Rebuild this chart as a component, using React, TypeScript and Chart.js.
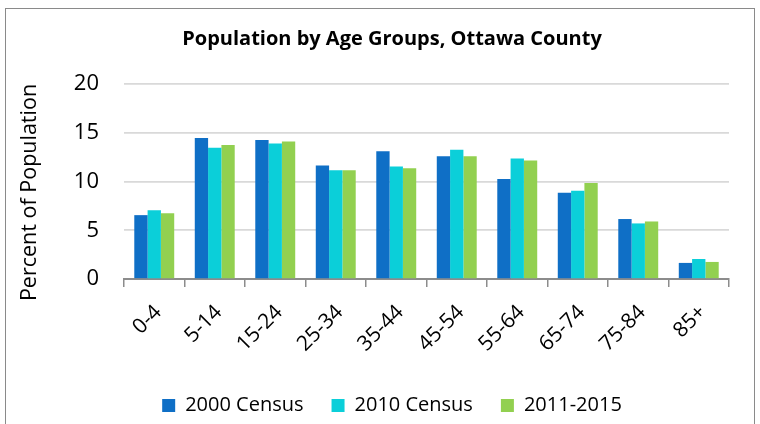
import React, { useEffect, useRef } from "react";
import { Chart, registerables } from "chart.js";

Chart.register(...registerables);

const categories = ["0-4", "5-14", "15-24", "25-34", "35-44", "45-54", "55-64", "65-74", "75-84", "85+"];
const census2000 = [6.55, 14.45, 14.25, 11.65, 13.1, 12.6, 10.25, 8.85, 6.15, 1.65];
const census2010 = [7.05, 13.45, 13.9, 11.15, 11.55, 13.25, 12.35, 9.05, 5.7, 2.05];
const acs20112015 = [6.75, 13.75, 14.1, 11.15, 11.35, 12.6, 12.15, 9.85, 5.9, 1.75];
const yTicks = [0, 5, 10, 15, 20];

const titleText = "Population by Age Groups, Ottawa County";
const yTitle = "Percent of Population";
const FONT = "'Open Sans', sans-serif";

const yTitlePlugin = {
  id: "yTitlePlugin",
  afterDraw(chart: any) {
    const ctx = chart.ctx;
    ctx.save();
    ctx.translate(30, 192.5);
    ctx.rotate(-Math.PI / 2);
    ctx.font = `21.5px ${FONT}`;
    ctx.fillStyle = "#000";
    ctx.textAlign = "center";
    ctx.textBaseline = "middle";
    ctx.fillText(yTitle, 0, 0);
    ctx.restore();
  },
};

export default function App() {
  const ref = useRef<HTMLCanvasElement>(null);
  useEffect(() => {
    if (!ref.current) return;
    const chart = new Chart(ref.current, {
      type: "bar",
      data: {
        labels: categories,
        datasets: [
          { label: "2000 Census", data: census2000, backgroundColor: "#0F6FC6" },
          { label: "2010 Census", data: census2010, backgroundColor: "#0BCFD9" },
          { label: "2011-2015", data: acs20112015, backgroundColor: "#92D050" },
        ],
      },
      options: {
        animation: false,
        responsive: false,
        maintainAspectRatio: false,
        datasets: { bar: { categoryPercentage: 0.66, barPercentage: 1, borderWidth: 0 } },
        layout: { padding: { left: 55, right: 31, top: 0, bottom: -1.5 } },
        plugins: {
          tooltip: { enabled: false },
          title: {
            display: true,
            text: titleText,
            color: "#000",
            font: { family: FONT, size: 20, weight: "bold", lineHeight: 1.2 },
            padding: { top: 27.5, bottom: 32.5 },
          },
          legend: {
            position: "bottom",
            labels: {
              boxWidth: 13,
              boxHeight: 13,
              padding: 28,
              color: "#000",
              font: { family: FONT, size: 20 },
            },
          },
        },
        scales: {
          x: {
            grid: {
              display: true,
              drawOnChartArea: false,
              drawTicks: true,
              tickLength: 8,
              color: "#8c8c8c",
              lineWidth: 1.5,
              offset: true,
            },
            border: { display: true, color: "#8c8c8c", width: 2 },
            ticks: {
              color: "#000",
              font: { family: FONT, size: 21 },
              minRotation: 45,
              maxRotation: 45,
              padding: 13,
              labelOffset: 4,
              autoSkip: false,
            },
            afterFit(scale: any) {
              scale.height = 88.5;
            },
          },
          y: {
            min: 0,
            max: 20,
            afterBuildTicks(scale: any) {
              scale.ticks = yTicks.map((v) => ({ value: v }));
            },
            grid: { color: "#d9d9d9", lineWidth: 1.7, drawTicks: false },
            border: { display: false },
            ticks: {
              color: "#000",
              font: { family: FONT, size: 22 },
              padding: 25,
            },
            afterFit(scale: any) {
              scale.width = 69;
            },
          },
        },
      },
      plugins: [yTitlePlugin],
    });
    return () => chart.destroy();
  }, []);

  return (
    <div style={{ position: "fixed", left: 0, top: 0, width: 760, height: 424, background: "#fff", overflow: "hidden" }}>
      <div
        style={{
          position: "absolute",
          left: 5,
          top: 8,
          width: 750,
          height: 440,
          border: "1.5px solid #8a8a8a",
          boxSizing: "border-box",
        }}
      />
      <canvas ref={ref} width={760} height={424} style={{ position: "absolute", left: 0, top: 0, width: 760, height: 424 }} />
    </div>
  );
}
